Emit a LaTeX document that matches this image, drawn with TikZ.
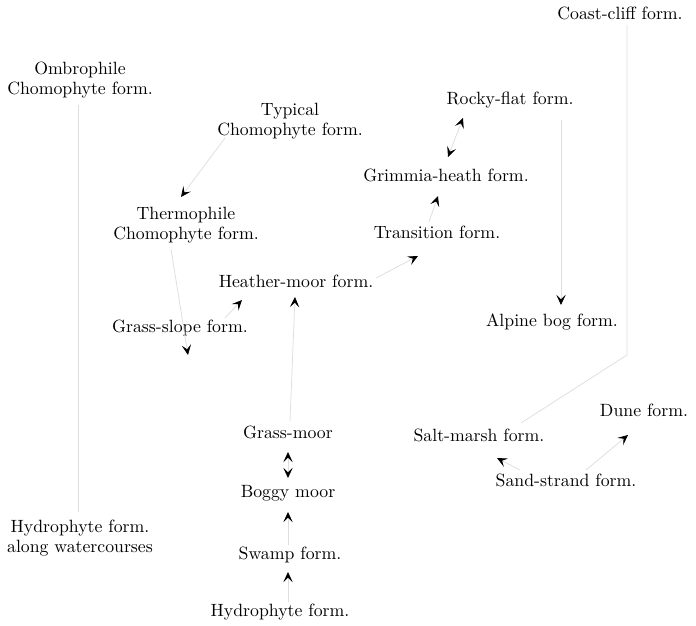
\documentclass[tikz,border=0pt]{standalone}
\usepackage{tikz}
\usetikzlibrary{calc,arrows.meta}

\tikzset{
  form/.style={align=center, inner sep=1pt, font=\fontsize{10.5}{11.8}\selectfont},
  link/.style={draw=black!13, line width=0.45pt},
  fwd/.style={link, -{Stealth[color=black,length=6pt,width=5.5pt,inset=2.6pt]}},
  both/.style={link, {Stealth[color=black,length=6pt,width=5.5pt,inset=2.6pt]}-{Stealth[color=black,length=6pt,width=5.5pt,inset=2.6pt]}}
}

\begin{document}
\begin{tikzpicture}[x=0.0208cm, y=-0.0208cm]
            \useasboundingbox (0,0) rectangle (696,626);

            \node (cliff) at (620,13) [form] {Coast-cliff form.};
            \node (ombro) at (80,80) [form] {Ombrophile\\Chomophyte form.};
            \node (typical) at (290,121) [form] {Typical\\Chomophyte form.};
            \node (rocky) at (510,100) [form] {Rocky-flat form.};
            \node (grimmia) at (446,175) [form] {Grimmia-heath form.};
            \node (trans) at (437,232) [form] {Transition form.};
            \node (thermo) at (186,225) [form] {Thermophile\\Chomophyte form.};
            \node (heather) at (296,281) [form] {Heather-moor form.};
            \node (alpine) at (552,322) [form] {Alpine bog form.};
            \node (gslope) at (180,328) [form] {Grass-slope form.};

            \node (gmoor) at (288,432) [form] {Grass-moor};
            \node (boggy) at (288,493) [form] {Boggy moor};
            \node (swamp) at (290,555) [form] {Swamp form.};
            \node (hydro) at (280,612) [form] {Hydrophyte form.};
            \node (water) at (80,538) [form] {Hydrophyte form.\\along watercourses};

            \node (salt) at (479,435) [form] {Salt-marsh form.};
            \node (dune) at (644,410) [form] {Dune form.};
            \node (sand) at (566,480) [form] {Sand-strand form.};

            % faint lines, black tips
            \draw[both] ($(rocky)+(-47,18)$) to ($(grimmia)+(2,-18)$);
            \draw[fwd] ($(trans)+(-8,-10)$) to ($(grimmia)+(-8,21)$);
            \draw[fwd] ($(heather)+(80,-3)$) to ($(trans)+(-19,24)$);
            \draw[fwd] ($(rocky)+(51,20)$) to ($(alpine)+(9,-17)$);
            \draw[fwd] ($(typical)+(-65,17)$) to ($(thermo)+(-5,-28)$);
            \draw[fwd] ($(thermo)+(-15,24)$) to ($(gslope)+(8,27)$);
            \draw[link] ($(ombro)+(-2,25)$) to ($(water)+(-2,-26)$);

            \draw[fwd] ($(gslope)+(45,-10)$) to ($(heather)+(-54,19)$);
            \draw[fwd] ($(gmoor)+(2,-11)$) to ($(heather)+(-1,16)$);
            \draw[both] ($(gmoor)+(0,20)$) to ($(boggy)+(0,-15)$);
            \draw[fwd] ($(swamp)+(-2,-10)$) to ($(boggy)+(0,19)$);
            \draw[fwd] ($(hydro)+(8,-10)$) to ($(swamp)+(-2,17)$);

            \draw[link] ($(cliff)+(7,12)$) -- ($(cliff)+(7,342)$) -- ($(salt)+(42,-12)$);
            \draw[fwd] ($(sand)+(-46,-10)$) to ($(salt)+(18,23)$);
            \draw[fwd] ($(sand)+(20,-10)$) to ($(dune)+(-16,25)$);
          \end{tikzpicture}
\end{document}
